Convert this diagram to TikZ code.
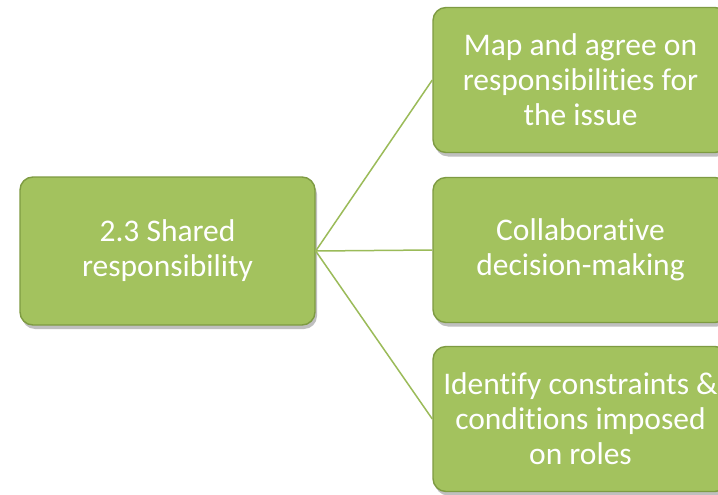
\documentclass[tikz,border=0pt]{standalone}
\usepackage{fontspec}
\setmainfont{Carlito}[RawFeature={-liga;-clig;-calt;-dlig}]
\usetikzlibrary{shadows}
\definecolor{boxgreen}{HTML}{A3C25E}
\definecolor{boxrim}{HTML}{7E9B42}
\definecolor{linkgreen}{HTML}{9BBB59}
\tikzset{
  box/.style={rectangle,rounded corners=13pt,fill=boxgreen,draw=boxrim,line width=1.4pt,
    minimum width=295pt,minimum height=145pt,inner sep=2pt,text=white,align=center,
    font=\fontsize{31.5}{35}\selectfont,
    drop shadow={shadow xshift=2pt,shadow yshift=-4pt,opacity=0.25,fill=black}},
  link/.style={draw=linkgreen,line width=1.5pt}
}
\begin{document}
\begin{tikzpicture}[x=1pt,y=-1pt]
    \clip (0,0) rectangle (718,495);
    \fill[white] (0,0) rectangle (718,495);

    %Cajas
    \node[box,minimum height=148pt] (shared) at (167.5,251) {2.3 Shared\\responsibility};
    \node[box] (map) at (580.5,80) {Map and agree on\\responsibilities for\\the issue};
    \node[box] (collab) at (580.5,250) {Collaborative\\decision-making};
    \node[box] (ident) at (580.5,419) {Identify constraints \&\\conditions imposed\\on roles};

    %Conectores
    \draw[link] (shared.east) -- (map.west);
    \draw[link] (shared.east) -- (collab.west);
    \draw[link] (shared.east) -- (ident.west);
\end{tikzpicture}
\end{document}
